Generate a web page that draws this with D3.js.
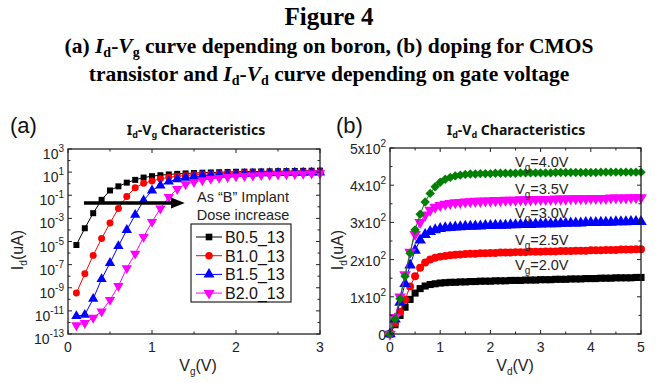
<!DOCTYPE html>
<html>
<head>
<meta charset="utf-8">
<script src="https://cdn.jsdelivr.net/npm/d3@7"></script>
<style>
  html, body { margin: 0; padding: 0; background: #fff; }
  svg { display: block; }
  .tick-label { font-family: "Liberation Sans", Arial, sans-serif; font-size: 14px; fill: #222; }
</style>
</head>
<body>
<svg id="fig" width="658" height="383"></svg>
<script>
// ---------- (a) Id-Vg data: drain current (uA) vs gate voltage ----------
const vg = [0.1,0.2,0.3,0.4,0.5,0.6,0.7,0.8,0.9,1.0,1.1,1.2,1.3,1.4,1.5,1.6,1.7,1.8,1.9,2.0,
            2.1,2.2,2.3,2.4,2.5,2.6,2.7,2.8,2.9,3.0];
const idB05 = [5.0e-6,1.4e-4,2.8e-3,4.0e-2,2.6e-1,5.9e-1,1.23,2.14,3.39,4.47,5.37,6.31,7.08,7.76,8.32,
               8.91,9.33,9.77,10.2,10.7,11.0,11.2,11.5,11.7,12.0,12.3,12.6,12.9,13.2,13.5];
const idB10 = [3.5e-10,1.6e-8,6.3e-7,1.8e-5,4.0e-4,7.1e-3,7.9e-2,4.5e-1,1.10,1.74,2.63,3.55,4.37,5.13,5.89,
               6.46,7.08,7.59,8.13,8.51,8.91,9.33,9.55,9.77,10.0,10.2,10.5,10.7,11.0,11.2];
const idB15 = [3.5e-12,4.5e-12,1.1e-10,5.6e-9,1.4e-7,4.0e-6,1.0e-4,2.0e-3,3.5e-2,2.6e-1,7.1e-1,1.51,2.45,3.31,4.07,
               4.79,5.37,5.89,6.31,6.76,7.08,7.41,7.76,8.13,8.32,8.51,8.71,8.91,9.12,9.33];
const idB20 = [5.6e-13,8.9e-13,2.5e-12,8.9e-12,8.9e-11,1.4e-9,5.0e-8,8.9e-7,2.5e-5,5.0e-4,7.1e-3,7.1e-2,3.5e-1,8.9e-1,1.41,
               2.00,2.63,3.16,3.72,4.27,4.68,5.13,5.50,5.89,6.31,6.61,6.92,7.24,7.59,7.94];
const seriesA = ["B0.5_13", "B1.0_13", "B1.5_13", "B2.0_13"];
const xTicksA = [0, 1, 2, 3];
const yExpA = [3, 1, -1, -3, -5, -7, -9, -11, -13];

// ---------- (b) Id-Vd data: drain current (uA) vs drain voltage ----------
const vd = d3.range(51).map(i => +(i * 0.1).toFixed(1));
const idVg20 = [0,25,50,72,93,110,122,129,133,135,137,138,139,139,140,140,141,141,142,142,142,
                143,143,143,144,144,144,145,145,145,146,146,146,147,147,147,148,148,148,149,149,
                149,150,150,150,151,151,151,151,152,152];
const idVg25 = [0,30,60,92,128,155,178,192,200,205,208,210,212,213,214,215,216,216,217,217,218,
                218,219,219,219,220,220,220,221,221,221,222,222,222,223,223,223,224,224,224,225,
                225,225,226,226,226,227,227,227,228,228];
const idVg30 = [0,40,85,135,185,225,252,267,275,280,283,285,286,287,288,289,289,290,290,291,291,
                292,292,292,293,293,294,294,294,295,295,296,296,296,297,297,298,298,298,299,299,
                299,300,300,300,301,301,301,302,302,302];
const idVg35 = [0,45,100,160,220,268,300,320,333,341,346,349,351,353,354,355,356,357,357,358,358,
                359,359,360,360,360,361,361,361,362,362,362,362,363,363,363,364,364,364,364,365,
                365,365,365,366,366,366,366,367,367,367];
const idVg40 = [0,40,95,155,217,280,322,355,378,396,408,416,421,425,427,429,430,430,431,431,431,
                432,432,432,432,432,433,433,433,433,433,433,433,434,434,434,434,434,434,434,434,
                434,435,435,435,435,435,435,435,435,435];
const gateLabels = ["2.0V", "2.5V", "3.0V", "3.5V", "4.0V"];
const xTicksB = [0, 1, 2, 3, 4, 5];
const yTicksB = [0, 100, 200, 300, 400, 500];

const colors = ["#000000", "#ff0000", "#0000ff", "#ff00ff", "#008000"];

const svg = d3.select("#fig");

// ---------- figure caption ----------
const cap = svg.append("g")
  .attr("font-family", "'Liberation Serif', 'Times New Roman', serif")
  .attr("font-weight", "bold").attr("font-size", 21.5).attr("text-anchor", "middle").attr("fill", "#000");
cap.append("text").attr("x", 329).attr("y", 25).attr("font-size", 25).text("Figure 4");
const l2 = cap.append("text").attr("x", 329).attr("y", 53);
l2.append("tspan").text("(a) ");
l2.append("tspan").attr("font-style", "italic").text("I");
l2.append("tspan").attr("font-size", 14).attr("dy", 4).text("d");
l2.append("tspan").attr("dy", -4).text("-");
l2.append("tspan").attr("font-style", "italic").text("V");
l2.append("tspan").attr("font-size", 14).attr("dy", 4).text("g");
l2.append("tspan").attr("dy", -4).text(" curve depending on boron, (b) doping for CMOS");
const l3 = cap.append("text").attr("x", 329).attr("y", 81);
l3.append("tspan").text("transistor and ");
l3.append("tspan").attr("font-style", "italic").text("I");
l3.append("tspan").attr("font-size", 14).attr("dy", 4).text("d");
l3.append("tspan").attr("dy", -4).text("-");
l3.append("tspan").attr("font-style", "italic").text("V");
l3.append("tspan").attr("font-size", 14).attr("dy", 4).text("d");
l3.append("tspan").attr("dy", -4).text(" curve depending on gate voltage");

// ---------- helpers ----------
const symbols = [d3.symbolSquare, d3.symbolCircle, d3.symbolTriangle, d3.symbolTriangle, d3.symbolSquare];

function marker(g, idx, size) {
  const path = d3.symbol().type(symbols[idx]).size(size)();
  return g.append("path").attr("d", path).attr("fill", colors[idx]);
}
// extra rotation per symbol: down-triangle, diamond (square turned 45deg)
const symRot = [0, 0, 0, 180, 45];

function frame(g, x, y) {
  const [x0, x1] = x.range(), [y0, y1] = y.range();
  g.append("rect").attr("x", x0).attr("y", y1).attr("width", x1 - x0).attr("height", y0 - y1)
    .attr("fill", "none").attr("stroke", "#222").attr("stroke-width", 1.3);
}

function xTicks(g, x, y, majors, minors) {
  const [y0, y1] = y.range();
  const tk = (v, len) => {
    g.append("line").attr("x1", x(v)).attr("x2", x(v)).attr("y1", y0).attr("y2", y0 - len)
      .attr("stroke", "#222");
    g.append("line").attr("x1", x(v)).attr("x2", x(v)).attr("y1", y1).attr("y2", y1 + len)
      .attr("stroke", "#222");
  };
  majors.forEach(v => tk(v, 4));
  minors.forEach(v => tk(v, 2.5));
  majors.forEach(v => g.append("text").attr("class", "tick-label").attr("x", x(v)).attr("y", y0 + 18)
    .attr("text-anchor", "middle").text(v));
}

function yTickMarks(g, x, y, majors, minors) {
  const [x0, x1] = x.range();
  const tk = (v, len) => {
    g.append("line").attr("x1", x0).attr("x2", x0 + len).attr("y1", y(v)).attr("y2", y(v)).attr("stroke", "#222");
    g.append("line").attr("x1", x1).attr("x2", x1 - len).attr("y1", y(v)).attr("y2", y(v)).attr("stroke", "#222");
  };
  majors.forEach(v => tk(v, 4));
  minors.forEach(v => tk(v, 2.5));
}

function subLabel(g, x, y, main, sub, rotate) {
  const t = g.append("text")
    .attr("font-family", "'Liberation Sans', Arial, sans-serif").attr("font-size", 16)
    .attr("text-anchor", "middle").attr("fill", "#222")
    .attr("transform", `translate(${x},${y})` + (rotate ? " rotate(-90)" : ""));
  t.append("tspan").text(main);
  t.append("tspan").attr("font-size", 10).attr("dy", 4).text(sub);
  t.append("tspan").attr("dy", -4).text("(" + (rotate ? "uA" : "V") + ")");
}

function panelTitle(g, cx, sub1, sub2) {
  const t = g.append("text").attr("x", cx).attr("y", 135)
    .attr("font-family", "'Noto Sans', 'Open Sans', sans-serif").attr("font-weight", "bold")
    .attr("font-size", 14).attr("text-anchor", "middle").attr("fill", "#111");
  t.append("tspan").text("I");
  t.append("tspan").attr("font-size", 9).attr("dy", 3).text(sub1);
  t.append("tspan").attr("dy", -3).text("-V");
  t.append("tspan").attr("font-size", 9).attr("dy", 3).text(sub2);
  t.append("tspan").attr("dy", -3).text(" Characteristics");
}

function panelTag(g, x, txt) {
  g.append("text").attr("x", x).attr("y", 133)
    .attr("font-family", "'Liberation Sans', Arial, sans-serif").attr("font-size", 22)
    .attr("fill", "#111").text(txt);
}

// ---------- panel (a) ----------
const ga = svg.append("g");
const xa = d3.scaleLinear().domain([0, 3]).range([68, 320]);
const ya = d3.scaleLog().domain([1e-13, 1e3]).range([334, 149]);

panelTag(ga, 10, "(a)");
panelTitle(ga, 196, "d", "g");

const seriesDataA = [idB05, idB10, idB15, idB20];
const lineA = d3.line().x(d => xa(d[0])).y(d => ya(d[1]));
const aSizes = [36, 38, 46, 46];
seriesDataA.forEach((vals, i) => {
  const pts = vg.map((v, k) => [v, vals[k]]);
  ga.append("path").attr("d", lineA(pts)).attr("fill", "none").attr("stroke", colors[i]).attr("stroke-width", 1);
  pts.forEach(p => {
    marker(ga, i, aSizes[i]).attr("transform",
      `translate(${xa(p[0])},${ya(p[1])}) rotate(${symRot[i]})`);
  });
});

frame(ga, xa, ya);
xTicks(ga, xa, ya, xTicksA, [0.5, 1.5, 2.5]);
yTickMarks(ga, xa, ya, yExpA.map(e => Math.pow(10, e)), [2, 0, -2, -4, -6, -8, -10, -12].map(e => Math.pow(10, e)));
yExpA.forEach(e => {
  const t = ga.append("text").attr("class", "tick-label").attr("x", 64).attr("y", ya(Math.pow(10, e)) + 10)
    .attr("text-anchor", "end");
  t.append("tspan").text("10");
  t.append("tspan").attr("font-size", 10).attr("dy", -7).text(e < 0 ? "-" + Math.abs(e) : e);
});

// dose-direction arrow and note
ga.append("line").attr("x1", xa(0.19)).attr("x2", xa(1.25)).attr("y1", 203).attr("y2", 203)
  .attr("stroke", "#000").attr("stroke-width", 3.5);
ga.append("path").attr("d", `M${xa(1.25) - 2},197.5 L${xa(1.39)},203 L${xa(1.25) - 2},208.5 Z`).attr("fill", "#000");
const note = ga.append("g").attr("font-family", "'Liberation Sans', Arial, sans-serif")
  .attr("font-size", 14.5).attr("fill", "#222").attr("text-anchor", "middle");
note.append("text").attr("x", 243).attr("y", 202).text("As \u201cB\u201d Implant");
note.append("text").attr("x", 243).attr("y", 220).text("Dose increase");

// legend
const lg = ga.append("g");
lg.append("rect").attr("x", 191).attr("y", 224).attr("width", 100).attr("height", 78)
  .attr("fill", "#fff").attr("stroke", "#222").attr("stroke-width", 1.2);
seriesA.forEach((name, i) => {
  const yy = 237 + i * 18.7;
  lg.append("line").attr("x1", 196).attr("x2", 222).attr("y1", yy).attr("y2", yy).attr("stroke", colors[i]);
  marker(lg, i, i >= 2 ? 52 : 44).attr("transform", `translate(209,${yy}) rotate(${symRot[i]})`);
  lg.append("text").attr("x", 225).attr("y", yy + 6)
    .attr("font-family", "'Liberation Sans', Arial, sans-serif").attr("font-size", 16).attr("fill", "#111").text(name);
});

subLabel(ga, 198, 371, "V", "g", false);
subLabel(ga, 23, 250, "I", "d", true);

// ---------- panel (b) ----------
const gb = svg.append("g");
const xb = d3.scaleLinear().domain([0, 5]).range([390, 641]);
const yb = d3.scaleLinear().domain([0, 500]).range([334, 148]);

panelTag(gb, 336, "(b)");
panelTitle(gb, 516, "d", "d");

const seriesDataB = [idVg20, idVg25, idVg30, idVg35, idVg40];
const lineB = d3.line().x(d => xb(d[0])).y(d => yb(d[1]));
const bSizes = [50, 50, 58, 58, 44];
seriesDataB.forEach((vals, i) => {
  const pts = vd.map((v, k) => [v, vals[k]]);
  gb.append("path").attr("d", lineB(pts)).attr("fill", "none").attr("stroke", colors[i]).attr("stroke-width", 1);
  pts.forEach(p => {
    marker(gb, i, bSizes[i]).attr("transform",
      `translate(${xb(p[0])},${yb(p[1])}) rotate(${symRot[i]})`);
  });
});

frame(gb, xb, yb);
xTicks(gb, xb, yb, xTicksB, [0.5, 1.5, 2.5, 3.5, 4.5]);
yTickMarks(gb, xb, yb, yTicksB, [50, 150, 250, 350, 450]);
yTicksB.forEach(v => {
  const t = gb.append("text").attr("class", "tick-label").attr("x", 386).attr("y", yb(v) + 6)
    .attr("text-anchor", "end");
  if (v === 0) { t.text("0"); return; }
  t.append("tspan").text((v / 100) + "x10");
  t.append("tspan").attr("font-size", 10).attr("dy", -7).text("2");
});

// gate-voltage labels above each curve
const gateY = [270, 245, 218, 194, 167];
gateLabels.forEach((lab, i) => {
  const t = gb.append("text").attr("x", 515).attr("y", gateY[i])
    .attr("font-family", "'Liberation Sans', Arial, sans-serif").attr("font-size", 14.5).attr("fill", "#222");
  t.append("tspan").text("V");
  t.append("tspan").attr("font-size", 10).attr("dy", 4).text("g");
  t.append("tspan").attr("dy", -4).text("=" + lab);
});

subLabel(gb, 515, 371, "V", "d", false);
subLabel(gb, 343, 250, "I", "d", true);
</script>
</body>
</html>
